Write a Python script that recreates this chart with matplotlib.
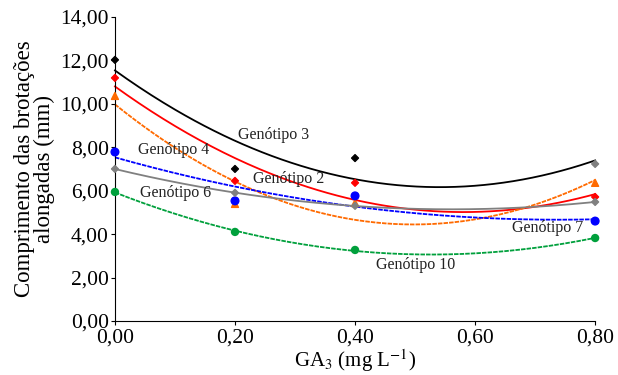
import numpy as np
import matplotlib
matplotlib.use('Agg')
import matplotlib.pyplot as plt
from matplotlib.ticker import FuncFormatter

plt.rcParams['font.family'] = 'Liberation Serif'
plt.rcParams['mathtext.fontset'] = 'stix'

# doses de GA3
ga3 = [0.0, 0.2, 0.4, 0.8]

# comprimento medio (mm) por genotipo
gen3 = [12.02, 7.00, 7.50, 7.23]
gen2 = [11.19, 6.45, 6.36, 5.71]
gen_laranja = [10.36, 5.39, 5.43, 6.36]
gen_azul = [7.78, 5.53, 5.76, 4.60]
gen6 = [7.00, 5.90, 5.30, 5.48]
gen10 = [5.94, 4.10, 3.27, 3.82]

series = [
    (gen3, 'black', '-', 'D', 3.5),
    (gen2, 'red', '-', 'D', 3.5),
    (gen_laranja, '#ff6a00', '--', '^', 5),
    (gen_azul, 'blue', '--', 'o', 5.5),
    (gen6, 'gray', '-', 'D', 3.5),
    (gen10, '#00a03c', '--', 'o', 5),
]

fig, ax = plt.subplots(figsize=(6.18, 3.75), dpi=100)
fig.subplots_adjust(left=0.186, right=0.963, bottom=0.144, top=0.955)

xs = np.linspace(0, 0.8, 200)
for vals, cor, ls, mk, ms in series:
    coef = np.polyfit(ga3, vals, 2)  # regressao quadratica
    ax.plot(xs, np.polyval(coef, xs), color=cor, linestyle=ls, linewidth=1.3,
            dashes=(2.5, 0.6) if ls == '--' else (None, None), clip_on=False)
    cores = [cor] * 4
    if vals is gen3:
        cores[3] = 'gray'
    ax.scatter(ga3, vals, color=cores, marker=mk, s=ms ** 2, zorder=3, clip_on=False)

rotulos = [
    ('Genótipo 3', 0.205, 8.57),
    ('Genótipo 4', 0.038, 7.88),
    ('Genótipo 2', 0.23, 6.54),
    ('Genótipo 6', 0.042, 5.90),
    ('Genótipo 7', 0.662, 4.28),
    ('Genótipo 10', 0.435, 2.58),
]
for txt, x, y in rotulos:
    ax.text(x, y, txt, fontsize=11.5, va='center', ha='left', color='#222222')

ax.set_xlim(0, 0.8)
ax.set_ylim(0, 14)
ax.set_xticks([0, 0.2, 0.4, 0.6, 0.8])
ax.set_yticks(np.arange(0, 15, 2))
fmt = FuncFormatter(lambda v, p: ('%.2f' % v).replace('.', ','))
ax.xaxis.set_major_formatter(fmt)
ax.yaxis.set_major_formatter(fmt)
ax.tick_params(labelsize=15.5, direction='out', length=3, width=0.8)
ax.tick_params(axis='y', pad=1.5)
ax.tick_params(axis='x', pad=2.5)
for s in ['top', 'right']:
    ax.spines[s].set_visible(False)

ax.set_xlabel('GA$_3$ (mg L$^{\\mathrm{-1}}$)', fontsize=15, labelpad=0)
ax.set_ylabel('Comprimento das brotações\nalongadas (mm)', fontsize=16.5,
              linespacing=0.9, labelpad=4)

fig.savefig('out.png', dpi=100)
